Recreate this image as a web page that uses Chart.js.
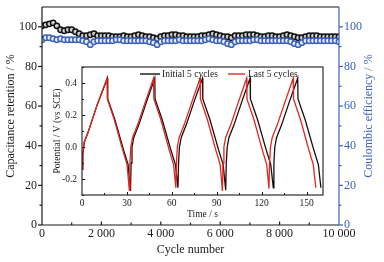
<!DOCTYPE html>
<html>
<head>
<meta charset="utf-8">
<script src="https://cdn.jsdelivr.net/npm/chart.js@4.4.1/dist/chart.umd.min.js"></script>
<style>
  html, body { margin: 0; padding: 0; background: #fff; }
  #wrap { position: relative; width: 384px; height: 262px; overflow: hidden; }
  #mainChart { position: absolute; left: 0; top: 0; }
  #insetChart { position: absolute; left: 48px; top: 60px; }
</style>
</head>
<body>
<div id="wrap">
  <canvas id="mainChart" width="384" height="262"></canvas>
  <canvas id="insetChart" width="282" height="164"></canvas>
</div>
<script>
// cycling data (main plot)
const cycleNumbers = [0,125,250,375,500,625,750,875,1000,1125,1250,1375,1500,1625,1750,1875,2000,
  2125,2250,2375,2500,2625,2750,2875,3000,3125,3250,3375,3500,3625,3750,3875,4000,
  4125,4250,4375,4500,4625,4750,4875,5000,5125,5250,5375,5500,5625,5750,5875,6000,
  6125,6250,6375,6500,6625,6750,6875,7000,7125,7250,7375,7500,7625,7750,7875,8000,
  8125,8250,8375,8500,8625,8750,8875,9000,9125,9250,9375,9500,9625,9750,9875,10000];
const capacitanceRetention = [100.5,101,101.5,102,100.5,98.5,98,98.5,98.5,
  97.5,96.5,95.5,95.5,96,96.5,95.5,95.5,
  95.5,95.5,95,95,95,95.5,95,95,
  95.5,96,95.5,95,95,94.5,94,95,
  95.5,95.5,96,96,95.5,95.5,95,95,
  95,95,95.5,95.5,96,96.5,96,95.5,
  95,95,94.5,95.5,95.5,95.5,96,96,
  96,95.5,95,95,95.5,95.5,95,95,
  95.5,96,95.5,95,94.5,94.5,95,95.5,
  95.5,95.5,95,95,95,95,95,95];
const coulombicEfficiency = [93.5,94.5,94.5,94,93.5,94,93.5,93.5,93.5,
  93.5,93.5,93,92.5,91,92.5,93,93,
  93,93,93,93.5,93.5,93,93,93,
  93,93,93,93,92.5,92,91,92.5,
  93,93,93,93,93.5,93,93,93,
  93,93,93,93.5,94,93.5,93,93,
  92.5,91.5,91,92.5,93,93,93,93,
  93.5,93.5,93,93,93,93,93,93,
  93,93,92.5,91.5,91,92,93,93,
  93,93,93,93,93,93,93,92.5];
const percentTicks = [0,20,40,60,80,100];
const cycleTicks = [0,2000,4000,6000,8000,10000];

// galvanostatic charge/discharge (inset)
const timeInitial = [0,0.5,1.5,4,10,17, 17.2,22,27.5,30.8,32.4,
  32.8,33.4,34.6,38,43.4,48.6, 48.8,53.6,59.1,62.4,64.1,
  64.5,65.1,66.3,69.7,75.1,80.5, 80.7,85.5,91,94.3,96,
  96.4,97,98.2,101.6,107,112.3, 112.5,117.3,122.8,126.1,127.8,
  128.2,128.8,130,133.4,138.8,144.1, 144.3,149.1,154.6,157.9,159.6];
const potentialInitial = [-0.14,-0.05,0.03,0.09,0.26,0.43, 0.30,0.17,-0.01,-0.11,-0.275,
  -0.1,0.0,0.06,0.14,0.29,0.43, 0.30,0.17,-0.01,-0.11,-0.255,
  -0.1,0.0,0.06,0.14,0.29,0.43, 0.30,0.17,-0.01,-0.11,-0.27,
  -0.1,0.0,0.06,0.14,0.29,0.43, 0.30,0.17,-0.01,-0.11,-0.255,
  -0.1,0.0,0.06,0.14,0.29,0.43, 0.30,0.17,-0.01,-0.11,-0.255];
const timeLast = [0,0.5,1.5,4,10,16.7, 16.9,21.6,26.9,30.1,31.6,
  32,32.6,33.8,37.2,42.6,47.8, 48,52.7,58,61.2,62.7,
  63.1,63.7,64.9,68.3,73.7,78.9, 79.1,83.8,89.1,92.3,93.8,
  94.2,94.8,96,99.4,104.8,110, 110.2,114.9,120.2,123.4,124.9,
  125.3,125.9,127.1,130.5,135.9,141.1, 141.3,146,151.3,154.5,156.2];
const potentialLast = [-0.14,-0.05,0.03,0.09,0.26,0.43, 0.30,0.17,-0.01,-0.11,-0.27,
  -0.1,0.0,0.06,0.14,0.29,0.43, 0.30,0.17,-0.01,-0.11,-0.255,
  -0.1,0.0,0.06,0.14,0.29,0.43, 0.30,0.17,-0.01,-0.11,-0.275,
  -0.1,0.0,0.06,0.14,0.29,0.43, 0.30,0.17,-0.01,-0.11,-0.26,
  -0.1,0.0,0.06,0.14,0.29,0.43, 0.30,0.17,-0.01,-0.11,-0.255];
const timeTicks = [0,30,60,90,120,150];
const potentialTicks = [-0.2,0,0.2,0.4];

const SERIF = "'Liberation Serif','Times New Roman',serif";
const INK = '#1a1a1a';
const BLUE = '#3b61b8';
Chart.defaults.font.family = SERIF;
Chart.defaults.color = INK;

function seg(ctx, x1, y1, x2, y2) {
  ctx.beginPath(); ctx.moveTo(x1, y1); ctx.lineTo(x2, y2); ctx.stroke();
}
// fixed axis boxes, no label overhang padding
const fixBox = (w, h) => s => {
  if (w != null) s.width = w;
  if (h != null) s.height = h;
  s.paddingTop = 0; s.paddingBottom = 0; s.paddingLeft = 0; s.paddingRight = 0;
};

const mainFrame = {
  id: 'mainFrame',
  afterDraw(chart) {
    const { ctx, chartArea: a, scales } = chart;
    ctx.save();
    ctx.lineWidth = 1.2;
    ctx.strokeStyle = INK;
    for (let v = 0; v <= 100; v += 10) {
      const y = scales.y.getPixelForValue(v);
      seg(ctx, a.left - (v % 20 === 0 ? 4 : 2.5), y, a.left, y);
    }
    for (let c = 1000; c < 10000; c += 1000) {
      const x = scales.x.getPixelForValue(c);
      seg(ctx, x, a.bottom, x, a.bottom - (c % 2000 === 0 ? 3.5 : 2.5));
    }
    seg(ctx, a.left, a.top, a.right, a.top);
    seg(ctx, a.left, a.top, a.left, a.bottom);
    seg(ctx, a.left, a.bottom, a.right, a.bottom);
    ctx.strokeStyle = BLUE;
    for (let v = 0; v <= 100; v += 10) {
      const y = scales.y2.getPixelForValue(v);
      seg(ctx, a.right, y, a.right + (v % 20 === 0 ? 4 : 2.5), y);
    }
    seg(ctx, a.right, a.top, a.right, a.bottom);
    // right title reads bottom-to-top like the left one
    ctx.fillStyle = BLUE;
    ctx.font = '12px ' + SERIF;
    ctx.textAlign = 'center';
    ctx.textBaseline = 'middle';
    ctx.translate(369, (a.top + a.bottom) / 2);
    ctx.rotate(-Math.PI / 2);
    ctx.fillText('Coulombic efficiency / %', 0, 0);
    ctx.restore();
  }
};

new Chart(document.getElementById('mainChart'), {
  type: 'scatter',
  data: {
    datasets: [
      {
        label: 'Coulombic efficiency',
        data: cycleNumbers.map((c, i) => ({ x: c, y: coulombicEfficiency[i] })),
        yAxisID: 'y2',
        pointRadius: 2.7,
        pointBorderWidth: 1.5,
        pointBackgroundColor: '#e9eefa',
        pointBorderColor: BLUE,
        order: 0
      },
      {
        label: 'Capacitance retention',
        data: cycleNumbers.map((c, i) => ({ x: c, y: capacitanceRetention[i] })),
        yAxisID: 'y',
        pointRadius: 2.7,
        pointBorderWidth: 1.5,
        pointBackgroundColor: '#cfcfcf',
        pointBorderColor: '#111',
        order: 1
      }
    ]
  },
  options: {
    responsive: false,
    animation: false,
    events: [],
    layout: { padding: { top: 7, left: 0, right: 0, bottom: 0 } },
    plugins: { legend: { display: false }, tooltip: { enabled: false } },
    scales: {
      x: {
        type: 'linear', min: 0, max: 10000,
        afterBuildTicks: s => { s.ticks = cycleTicks.map(v => ({ value: v })); },
        afterFit: fixBox(null, 37),
        grid: { display: false, drawTicks: false },
        border: { display: false },
        ticks: {
          padding: 2, maxRotation: 0, autoSkip: false,
          font: { size: 12 }, color: INK,
          callback: v => String(v).replace(/\B(?=(\d{3})+(?!\d))/g, ' ')
        },
        title: { display: true, text: 'Cycle number', font: { size: 12 }, color: INK, padding: { top: 0, bottom: 5 } }
      },
      y: {
        position: 'left', min: 0, max: 110,
        afterBuildTicks: s => { s.ticks = percentTicks.map(v => ({ value: v })); },
        afterFit: fixBox(42, null),
        grid: { display: false, drawTicks: false },
        border: { display: false },
        ticks: { padding: 5, font: { size: 12 }, color: INK },
        title: { display: true, text: 'Capacitance retention / %', font: { size: 12 }, color: INK, padding: { top: 4, bottom: 0 } }
      },
      y2: {
        position: 'right', min: 0, max: 110,
        afterBuildTicks: s => { s.ticks = percentTicks.map(v => ({ value: v })); },
        afterFit: fixBox(45, null),
        grid: { display: false, drawTicks: false },
        border: { display: false },
        ticks: { padding: 5, font: { size: 12 }, color: BLUE }
      }
    }
  },
  plugins: [mainFrame]
});

const insetFrame = {
  id: 'insetFrame',
  afterDraw(chart) {
    const { ctx, chartArea: a, scales } = chart;
    ctx.save();
    ctx.strokeStyle = INK;
    ctx.lineWidth = 1;
    for (let v = -0.3; v <= 0.5001; v += 0.1) {
      const y = Math.round(scales.y.getPixelForValue(v)) + 0.5;
      const major = Math.abs(Math.round(v * 10) % 2) === 0;
      seg(ctx, a.left, y, a.left + (major ? 3 : 2), y);
    }
    for (let t = 15; t < 161; t += 15) {
      const x = Math.round(scales.x.getPixelForValue(t)) + 0.5;
      seg(ctx, x, a.bottom, x, a.bottom - (t % 30 === 0 ? 3 : 2));
    }
    ctx.lineWidth = 1.1;
    ctx.strokeRect(a.left, a.top, a.right - a.left, a.bottom - a.top);
    // legend
    ctx.font = '9.5px ' + SERIF;
    ctx.textBaseline = 'middle';
    ctx.textAlign = 'left';
    ctx.fillStyle = INK;
    const ly = a.top + 7;
    const items = [
      { ds: chart.data.datasets[1], x0: 92, x1: 112, tx: 114 },
      { ds: chart.data.datasets[0], x0: 180, x1: 197, tx: 200 }
    ];
    items.forEach(it => {
      ctx.strokeStyle = it.ds.borderColor;
      ctx.lineWidth = 1.4;
      seg(ctx, it.x0, ly, it.x1, ly);
      ctx.fillText(it.ds.label, it.tx, ly + 0.5);
    });
    ctx.restore();
  }
};

new Chart(document.getElementById('insetChart'), {
  type: 'scatter',
  data: {
    datasets: [
      {
        label: 'Last 5 cycles',
        data: timeLast.map((t, i) => ({ x: t, y: potentialLast[i] })),
        showLine: true, pointRadius: 0, borderColor: '#e8231c', borderWidth: 1.3,
        order: 0
      },
      {
        label: 'Initial 5 cycles',
        data: timeInitial.map((t, i) => ({ x: t, y: potentialInitial[i] })),
        showLine: true, pointRadius: 0, borderColor: '#111', borderWidth: 1.3,
        order: 1
      }
    ]
  },
  options: {
    responsive: false,
    animation: false,
    events: [],
    layout: { padding: { top: 7, right: 7, left: 0, bottom: 0 } },
    plugins: { legend: { display: false }, tooltip: { enabled: false } },
    scales: {
      x: {
        type: 'linear', min: 0, max: 161,
        afterBuildTicks: s => { s.ticks = timeTicks.map(v => ({ value: v })); },
        afterFit: fixBox(null, 29),
        grid: { display: false, drawTicks: false },
        border: { display: false },
        ticks: { padding: 3, maxRotation: 0, autoSkip: false, font: { size: 9.5 }, color: INK },
        title: { display: true, text: 'Time / s', font: { size: 9.5 }, color: INK, padding: { top: 0, bottom: 4 } }
      },
      y: {
        min: -0.3, max: 0.5,
        afterBuildTicks: s => { s.ticks = potentialTicks.map(v => ({ value: v })); },
        afterFit: fixBox(34, null),
        grid: { display: false, drawTicks: false },
        border: { display: false },
        ticks: { padding: 5, font: { size: 9.5 }, color: INK, callback: v => v.toFixed(1) },
        title: { display: true, text: 'Potential / V (vs SCE)', font: { size: 9.5 }, color: INK, padding: { top: 4, bottom: 0 } }
      }
    }
  },
  plugins: [insetFrame]
});
</script>
</body>
</html>
